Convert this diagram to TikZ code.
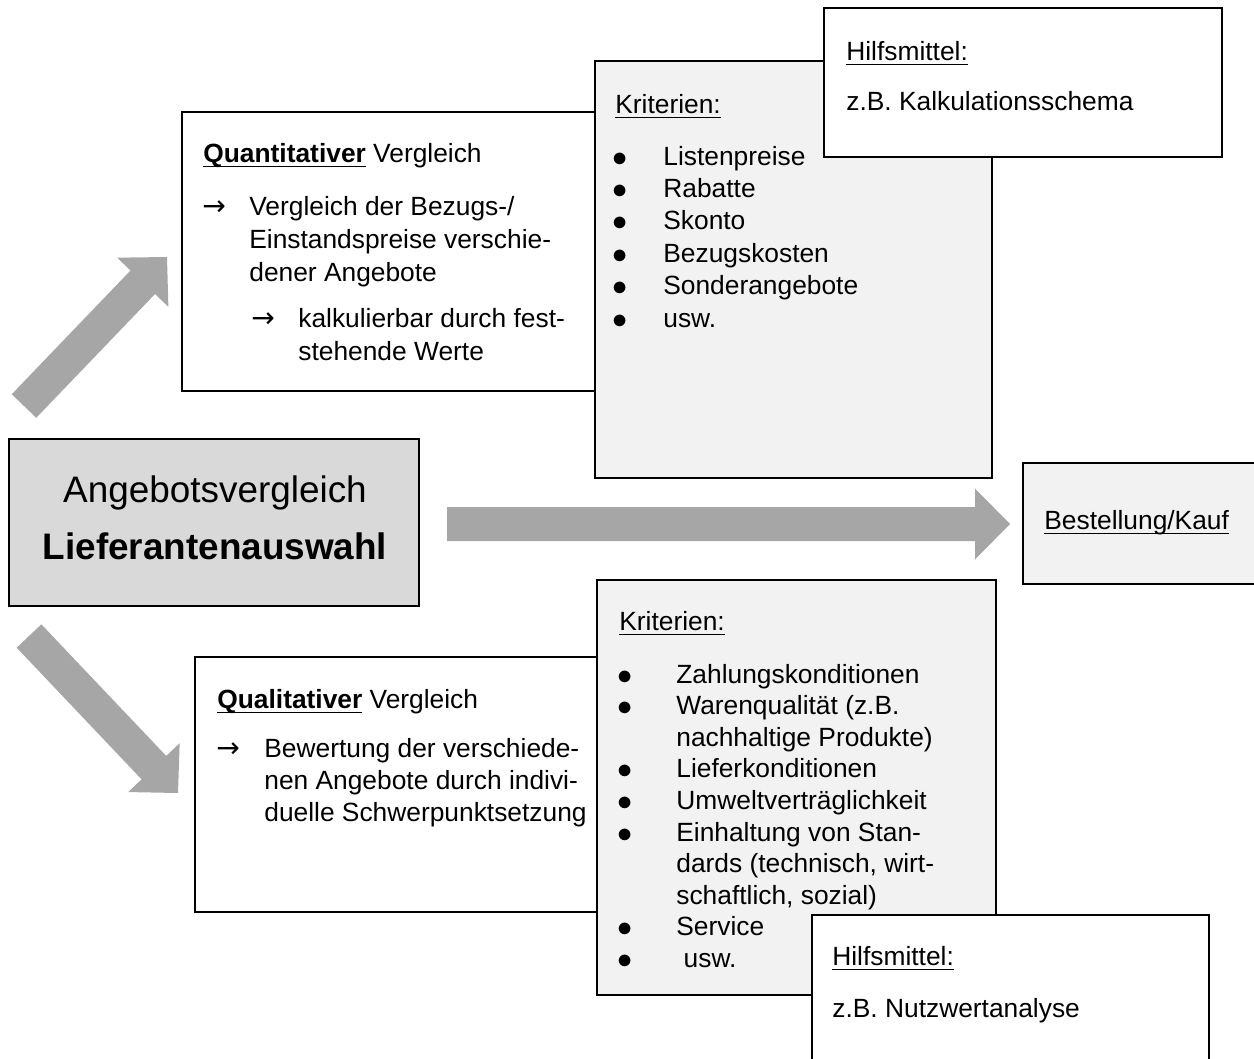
\documentclass[tikz,border=0pt]{standalone}
\usepackage{fontspec}
\setmainfont{Liberation Sans}
\newfontfamily\symfont{DejaVu Sans}
\usetikzlibrary{calc,fit}

\definecolor{arrowgray}{HTML}{A6A6A6}
\definecolor{boxgray}{HTML}{D9D9D9}
\definecolor{critgray}{HTML}{F2F2F2}

% underline at a fixed depth, like a word processor
\newcommand{\ulword}[1]{\leavevmode\setbox0\hbox{#1}\rlap{\rule[-3pt]{\wd0}{0.9pt}}\box0\relax}

% block arrow: tail, tip, half shaft, half head, head length
\newcommand{\blockarrow}[5]{%
  \coordinate (#2-base) at ($(#2)!#5!(#1)$);
  \fill[arrowgray] ($(#1)!#3!90:(#2)$) -- ($(#2-base)!#3!-90:(#1)$)
    -- ($(#2-base)!#4!-90:(#1)$) -- (#2) -- ($(#2-base)!#4!90:(#1)$)
    -- ($(#2-base)!#3!90:(#1)$) -- ($(#1)!#3!-90:(#2)$) -- cycle;}

\tikzset{
  box/.style={draw, line width=1.1pt, inner sep=0pt, fill=white},
  txt/.style={anchor=base west, inner sep=0pt, font=\fontsize{15}{18}\selectfont},
  bul/.style={anchor=base west, inner sep=0pt, font=\fontsize{18}{18}\selectfont},
  arr/.style={anchor=base west, inner sep=0pt, font=\symfont\fontsize{16}{16}\selectfont},
  big/.style={anchor=base, inner sep=0pt, font=\fontsize{21}{25}\selectfont},
}
\newcommand{\critdot}{\raisebox{-0.6pt}{$\bullet$}}

\begin{document}
\begin{tikzpicture}[x=0.02cm, y=-0.02cm]
  \clip (0,0) rectangle (1254,1058);

  % arrows
  \coordinate (up-tail) at (24,406);
  \coordinate (up-tip) at (167,257);
  \coordinate (down-tail) at (29,636);
  \coordinate (down-tip) at (178,793);
  \coordinate (right-tail) at (447,524);
  \coordinate (right-tip) at (1010,524);
  \blockarrow{up-tail}{up-tip}{0.34cm}{0.71cm}{0.7cm}
  \blockarrow{down-tail}{down-tip}{0.34cm}{0.71cm}{0.7cm}
  \blockarrow{right-tail}{right-tip}{0.34cm}{0.71cm}{0.7cm}

  % upper branch
  \node[box, fit={(182,112) (600,391)}] (quant) {};
  \node[box, fill=critgray, fit={(595,61) (992,478)}] (critq) {};
  \node[box, fit={(824,8) (1222,157)}] (aidq) {};

  \node[txt] (quant-head) at (203,162) {\ulword{\textbf{Quantitativer}} Vergleich};
  \node[arr] (quant-arr1) at (202,215) {→};
  \foreach \t [count=\i from 0] in {Vergleich der Bezugs-/, Einstandspreise verschie-, dener Angebote}
    \node[txt] (quant-l\i) at (249,{215+33*\i}) {\t};
  \node[arr] (quant-arr2) at (251,327) {→};
  \node[txt] (quant-l3) at (298,327) {kalkulierbar durch fest-};
  \node[txt] (quant-l4) at (298,360) {stehende Werte};

  \node[txt] (critq-head) at (615,113) {\ulword{Kriterien:}};
  \foreach \t [count=\i from 0] in {Listenpreise, Rabatte, Skonto, Bezugskosten, Sonderangebote, usw.} {
    \node[bul] (critq-b\i) at (612,{165+32.4*\i}) {\critdot};
    \node[txt] (critq-t\i) at (663,{165+32.4*\i}) {\t};
  }

  \node[txt] (aidq-head) at (846,60) {\ulword{Hilfsmittel:}};
  \node[txt] (aidq-t) at (846,110) {z.B. Kalkulationsschema};

  % centre
  \node[box, fill=boxgray, line width=1.4pt, fit={(9,439) (419,606)}] (main) {};
  \node[big] (main-t1) at (215,502) {Angebotsvergleich};
  \node[big, font=\fontsize{21}{25}\selectfont\bfseries] (main-t2) at (215,559) {Lieferantenauswahl};

  \node[box, fill=critgray, fit={(1023,463) (1262,584)}] (order) {};
  \node[txt] (order-t) at (1044,529) {\ulword{Bestellung/Kauf}};

  % lower branch
  \node[box, fit={(195,657) (600,912)}] (qual) {};
  \node[box, fill=critgray, fit={(597,580) (996,995)}] (critl) {};
  \node[box, fit={(812,915) (1209,1070)}] (aidl) {};

  \node[txt] (qual-head) at (217,708) {\ulword{\textbf{Qualitativer}} Vergleich};
  \node[arr] (qual-arr) at (216,757) {→};
  \foreach \t [count=\i from 0] in {Bewertung der verschiede-, nen Angebote durch indivi-, duelle Schwerpunktsetzung}
    \node[txt] (qual-l\i) at (264,{757+32*\i}) {\t};

  \node[txt] (critl-head) at (619,630) {\ulword{Kriterien:}};
  \foreach \b/\t [count=\i from 0] in {1/Zahlungskonditionen, 1/{Warenqualität (z.B.}, 0/{nachhaltige Produkte)},
      1/Lieferkonditionen, 1/Umweltverträglichkeit, 1/{Einhaltung von Stan-}, 0/{dards (technisch, wirt-},
      0/{schaftlich, sozial)}, 1/Service, 1/{\ usw.}} {
    \ifnum\b=1 \node[bul] (critl-b\i) at (617,{683+31.6*\i}) {\critdot}; \fi
    \node[txt] (critl-t\i) at (676,{683+31.6*\i}) {\t};
  }

  \node[txt] (aidl-head) at (832,965) {\ulword{Hilfsmittel:}};
  \node[txt] (aidl-t) at (832,1017) {z.B. Nutzwertanalyse};
\end{tikzpicture}
\end{document}
